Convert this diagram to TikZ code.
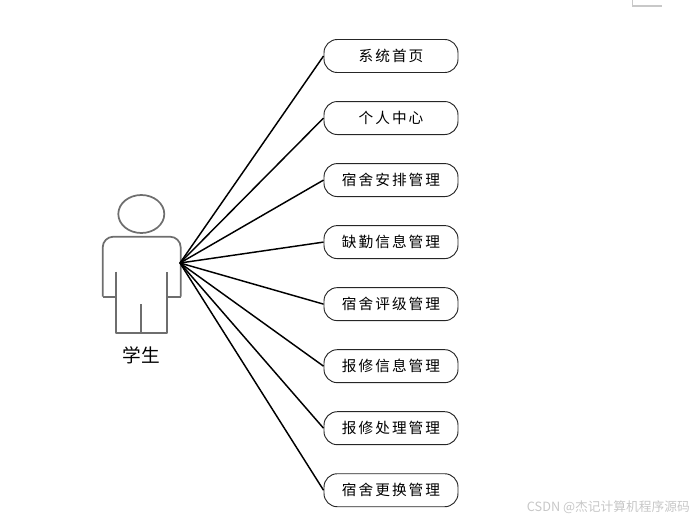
\documentclass[tikz,border=0pt]{standalone}
\usepackage{fontspec}
\usepackage{tikz}
\usetikzlibrary{positioning}
\newfontfamily\cjk[LetterSpace=14]{Noto Sans CJK SC}
\newfontfamily\cjkplain{Noto Sans CJK SC}
\definecolor{actorgray}{HTML}{6E6E6E}
\definecolor{markgray}{HTML}{C8C8C8}
\tikzset{
  usecase/.style={draw=black!85, rounded corners=10pt, line width=0.7pt,
    minimum width=134*0.75pt, minimum height=33*0.75pt, inner sep=0pt, text height=9pt, text depth=1pt, font=\fontsize{11pt}{12pt}\cjk},
  assoc/.style={black, line width=1.1pt},
  actorline/.style={actorgray, line width=1.3pt, line join=round}
}
\begin{document}
\begin{tikzpicture}[x=0.75pt, y=-0.75pt, node distance=28.1*0.75pt]
  \useasboundingbox (0,0) rectangle (697,522);

  % Use cases
  \node[usecase] (home) at (391,56) {系统首页};
  \node[usecase, below=of home] (center) {个人中心};
  \node[usecase, below=of center] (arrange) {宿舍安排管理};
  \node[usecase, below=of arrange] (absence) {缺勤信息管理};
  \node[usecase, below=of absence] (rating) {宿舍评级管理};
  \node[usecase, below=of rating] (repair) {报修信息管理};
  \node[usecase, below=of repair] (handle) {报修处理管理};
  \node[usecase, below=of handle] (change) {宿舍更换管理};

  % Actor
  \draw[actorline] (141.3,214) ellipse (23 and 19);
  \draw[actorline, rounded corners=8pt] (102.7,296.7) -- (102.7,236.7) -- (180.7,236.7) -- (180.7,296.7);
  \draw[actorline] (115.7,271.7) -- (115.7,333) -- (167,333) -- (167,271.7);
  \draw[actorline] (141,304) -- (141,333);
  \draw[actorline] (102.7,296.7) -- (115.7,296.7);
  \draw[actorline] (180.7,296.7) -- (167,296.7);
  \node[font=\fontsize{14pt}{16pt}\cjkplain] (student) at (141,355) {学生};
  \coordinate (hand) at (180,263);

  % Associations
  \draw[assoc] (hand) -- (home.west);
  \draw[assoc] (hand) -- (center.west);
  \draw[assoc] (hand) -- (arrange.west);
  \draw[assoc] (hand) -- (absence.west);
  \draw[assoc] (hand) -- (rating.west);
  \draw[assoc] (hand) -- (repair.west);
  \draw[assoc] (hand) -- (handle.west);
  \draw[assoc] (hand) -- (change.west);

  % Page corner
  \draw[markgray, line width=0.8pt] (632.5,0) -- (632.5,6) -- (662,6);

  % Watermark
  \node[anchor=east, inner sep=0pt, text=black!22, font=\fontsize{9.55pt}{11pt}\cjkplain] (mark) at (690,507) {CSDN @杰记计算机程序源码};
\end{tikzpicture}
\end{document}
